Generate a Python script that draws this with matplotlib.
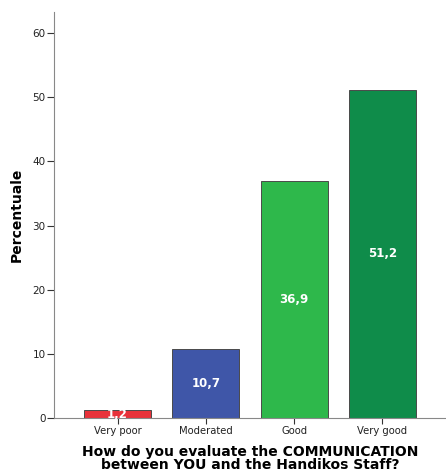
import matplotlib
matplotlib.use("Agg")
import matplotlib.pyplot as plt

categories = ["Very poor", "Moderated", "Good", "Very good"]
values = [1.2, 10.7, 36.9, 51.2]
colors = ["#e8323a", "#3f56a8", "#2eb84b", "#0f8c4a"]
yticks = [0, 10, 20, 30, 40, 50, 60]

fig = plt.figure(figsize=(4.46, 4.75), dpi=100)
ax = fig.add_axes([0.121, 0.12, 0.879, 0.855])

x = list(range(len(categories)))
bars = ax.bar(x, values, width=0.76, color=colors, edgecolor="#4a4a4a", linewidth=0.7, zorder=2)

for xi, v in zip(x, values):
    ax.text(xi, v / 2, f"{v:.1f}".replace(".", ","), ha="center", va="center",
            color="white", fontsize=8.5, fontweight="bold", zorder=3)

ax.set_xlim(-0.72, 3.72)
ax.set_ylim(0, 63.3)
ax.set_yticks(yticks)
ax.set_xticks(x)
ax.set_xticklabels(categories, fontsize=7.2, color="#222222")
ax.tick_params(axis="y", labelsize=7.5, labelcolor="#222222", length=5, width=0.8, color="#333333", pad=1)
ax.tick_params(axis="x", length=4, width=0.8, color="#333333", pad=2)

for s in ["top", "right"]:
    ax.spines[s].set_visible(False)
for s in ["left", "bottom"]:
    ax.spines[s].set_color("#888888")
    ax.spines[s].set_linewidth(0.8)

ax.set_ylabel("Percentuale", fontsize=10, fontweight="bold", labelpad=6)
ax.set_xlabel("How do you evaluate the COMMUNICATION\nbetween YOU and the Handikos Staff?",
              fontsize=10, fontweight="bold", labelpad=6, linespacing=0.95)

fig.savefig("out.png", dpi=100)
